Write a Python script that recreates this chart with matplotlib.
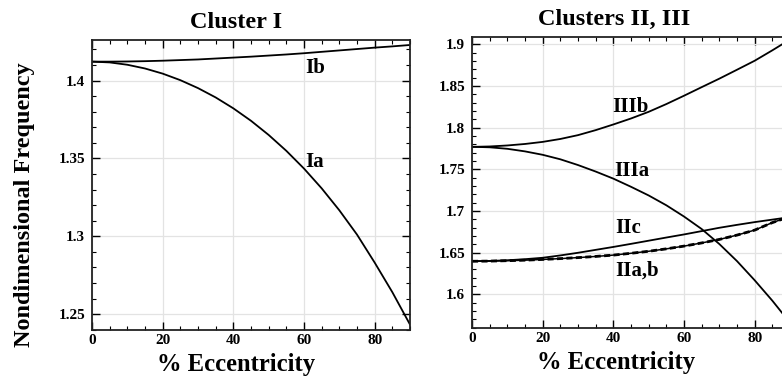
import matplotlib
matplotlib.use("Agg")
import matplotlib.pyplot as plt
from matplotlib.ticker import MultipleLocator, FormatStrFormatter

# ---------------- data ----------------
ecc = [0, 5, 10, 15, 20, 25, 30, 35, 40, 45, 50, 55, 60, 65, 70, 75, 80, 85, 90]

Ia = [1.4122, 1.4117, 1.4102, 1.4078, 1.4045, 1.4003, 1.3952, 1.3892, 1.3822, 1.3742,
      1.3651, 1.3549, 1.3435, 1.3308, 1.3167, 1.3011, 1.2831, 1.2641, 1.2433]
Ib = [1.4122, 1.4122, 1.4123, 1.4125, 1.4128, 1.4132, 1.4136, 1.4142, 1.4148, 1.4154,
      1.4161, 1.4168, 1.4176, 1.4185, 1.4194, 1.4203, 1.4212, 1.4220, 1.4229]

IIIb = [1.7771, 1.7776, 1.7788, 1.7806, 1.7831, 1.7866, 1.7912, 1.7972, 1.8040, 1.8112,
        1.8192, 1.8285, 1.8385, 1.8488, 1.8590, 1.8697, 1.8805, 1.8930, 1.9060]
IIIa = [1.7772, 1.7766, 1.7748, 1.7717, 1.7676, 1.7622, 1.7553, 1.7475, 1.7390, 1.7292,
        1.7188, 1.7070, 1.6935, 1.6785, 1.6605, 1.6400, 1.6170, 1.5925, 1.5660]
IIc = [1.6400, 1.6402, 1.6410, 1.6423, 1.6440, 1.6468, 1.6500, 1.6535, 1.6570, 1.6607,
       1.6645, 1.6683, 1.6720, 1.6760, 1.6800, 1.6835, 1.6868, 1.6898, 1.6928]
IIab = [1.6398, 1.6400, 1.6405, 1.6411, 1.6420, 1.6430, 1.6442, 1.6456, 1.6472, 1.6494,
        1.6518, 1.6547, 1.6580, 1.6618, 1.6660, 1.6712, 1.6772, 1.6862, 1.6935]

titles = ["Cluster I", "Clusters II, III"]
xlabel = "% Eccentricity"
ylabel = "Nondimensional Frequency"

# ---------------- style ----------------
FONT = "Liberation Serif"
plt.rcParams["font.family"] = [FONT, "DejaVu Serif"]
plt.rcParams["font.weight"] = "bold"

fig = plt.figure(figsize=(7.82, 3.78), dpi=100)
W, H = 782.0, 378.0

def px_axes(x0, x1, ytop, ybot):
    return fig.add_axes([x0 / W, 1 - ybot / H, (x1 - x0) / W, (ybot - ytop) / H])

ax1 = px_axes(92, 410, 40, 330)
ax2 = px_axes(472, 790, 37, 328)

def style(ax, ymajor, ylim):
    ax.set_xlim(0, 90)
    ax.set_ylim(*ylim)
    ax.xaxis.set_major_locator(MultipleLocator(20))
    ax.xaxis.set_minor_locator(MultipleLocator(5))
    ax.yaxis.set_major_locator(MultipleLocator(ymajor))
    ax.yaxis.set_minor_locator(MultipleLocator(0.01))
    ax.yaxis.set_major_formatter(FormatStrFormatter("%g"))
    ax.tick_params(which="both", direction="in", top=True, right=True,
                   labelsize=11, width=1.0, pad=3)
    ax.tick_params(axis="y", pad=5)
    ax.tick_params(which="major", length=6)
    ax.tick_params(which="minor", length=3, width=0.8)
    for lab in ax.get_xticklabels() + ax.get_yticklabels():
        lab.set_fontweight("bold")
        lab.set_family(FONT)
    ax.grid(True, which="major", color="#e3e3e3", lw=0.9)
    ax.set_axisbelow(True)
    for s in ax.spines.values():
        s.set_linewidth(1.3)
        s.set_color("#222222")
    ax.set_xlabel(xlabel, fontsize=17.7, fontweight="bold", family=FONT)
    ax.xaxis.set_label_coords(0.453, -0.08)

lw = 1.3
# left panel
style(ax1, 0.05, (1.2398, 1.4261))
ax1.plot(ecc, Ib, color="black", lw=lw)
ax1.plot(ecc, Ia, color="black", lw=lw)
ax1.text(63.1, 1.4081, "Ib", fontsize=15, fontweight="bold", ha="center", va="center")
ax1.text(62.9, 1.3480, "Ia", fontsize=15, fontweight="bold", ha="center", va="center")
ax1.set_title(titles[0], fontsize=17.5, fontweight="bold", x=0.453, pad=9)
ax1.set_ylabel(ylabel, fontsize=17.5, fontweight="bold", family=FONT)
ax1.yaxis.set_label_coords(-0.18, 0.432)

# right panel
style(ax2, 0.05, (1.5597, 1.9090))
ax2.plot(ecc, IIIb, color="black", lw=lw)
ax2.plot(ecc, IIIa, color="black", lw=lw)
ax2.plot(ecc, IIc, color="black", lw=lw)
ax2.plot(ecc, IIab, color="black", lw=1.1)
ax2.plot(ecc, IIab, color="black", lw=2.0, ls=(0, (2.2, 1.2)))
ax2.text(44.7, 1.8252, "IIIb", fontsize=15, fontweight="bold", ha="center", va="center")
ax2.text(45.3, 1.7484, "IIIa", fontsize=15, fontweight="bold", ha="center", va="center")
ax2.text(44.2, 1.6800, "IIc", fontsize=15, fontweight="bold", ha="center", va="center")
ax2.text(46.7, 1.6292, "IIa,b", fontsize=15, fontweight="bold", ha="center", va="center")
ax2.set_title(titles[1], fontsize=17.5, fontweight="bold", x=0.447, pad=9)

fig.savefig("out.png", dpi=100)
